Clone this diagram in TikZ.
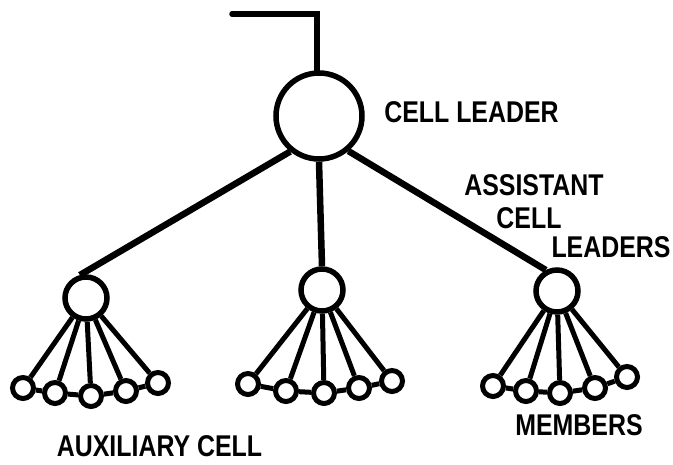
\documentclass[tikz,border=0pt]{standalone}
\usepackage{fontspec}
\setmainfont{Liberation Sans}[FakeStretch=0.83]
\begin{document}
\begin{tikzpicture}[x=1pt,y=-1pt,
  bigc/.style={circle,draw,line width=5.5pt,minimum size=86pt,inner sep=0pt},
  midc/.style={circle,draw,line width=5.5pt,minimum size=42pt,inner sep=0pt},
  smallc/.style={circle,draw,line width=5pt,minimum size=21pt,inner sep=0pt},
  mainline/.style={line width=6.5pt},
  fan/.style={line width=5pt},
  link/.style={line width=5pt},
  lbl/.style={inner sep=0pt,font=\fontsize{30}{32}\selectfont\bfseries}]
\useasboundingbox (0,0) rectangle (673,464);
% nodes
\node[bigc] (big) at (319,116) {};
\node[midc] (L) at (86,298) {};
\node[midc] (C) at (322,290) {};
\node[midc] (R) at (557,291) {};
\foreach \n/\x/\y in {L1/23/388,L2/55/393,L3/91/396,L4/126/391,L5/158/383,
                      C1/248/384,C2/286/391,C3/324/393,C4/359/388,C5/392/381,
                      R1/493/386,R2/526/391,R3/560/393,R4/595/388,R5/627/377}
  \node[smallc] (\n) at (\x,\y) {};
% top line
\coordinate (t1) at (232,14);
\coordinate (t2) at (317,14);
\draw[line width=5.5pt,line cap=round] (t1) -- (t2) -- (t2 |- big.north);
% main connectors
\draw[mainline] (big.231) -- (L.105);
\draw[mainline] (big.south) -- (C.north);
\draw[mainline] (big.310) -- (R.118);
% fans and links
\foreach \g in {L,C,R}{
  \foreach \i in {1,...,5}
    \draw[fan] (\g) -- (\g\i);
  \foreach \i/\j in {1/2,2/3,3/4,4/5}
    \draw[link] (\g\i) -- (\g\j);
}
% labels
\node[lbl] (cl) at (471.5,112) {CELL LEADER};
\node[lbl] (as1) at (534,185) {ASSISTANT};
\node[lbl] (as2) at (529,218) {CELL};
\node[lbl] (as3) at (611,247) {LEADERS};
\node[lbl] (mem) at (579,425) {MEMBERS};
\node[lbl] (aux) at (159.5,446) {AUXILIARY CELL};
\end{tikzpicture}
\end{document}
